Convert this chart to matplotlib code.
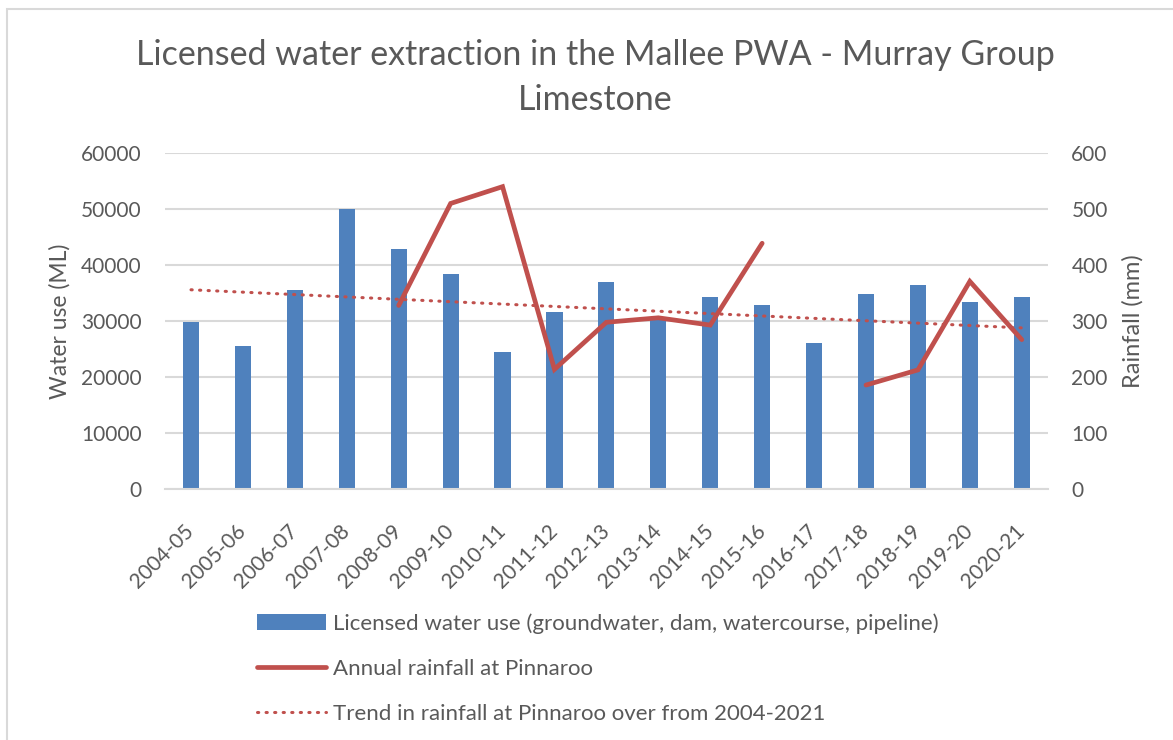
import numpy as np
import matplotlib
matplotlib.use('Agg')
import matplotlib.pyplot as plt
from matplotlib.lines import Line2D
from matplotlib.patches import Patch, Rectangle

years = ['2004-05', '2005-06', '2006-07', '2007-08', '2008-09', '2009-10',
         '2010-11', '2011-12', '2012-13', '2013-14', '2014-15', '2015-16',
         '2016-17', '2017-18', '2018-19', '2019-20', '2020-21']

# licensed water use (ML)
water_use = [29800, 25500, 35500, 50000, 42900, 38500, 24500, 31700, 37000,
             30500, 34400, 32800, 26100, 34900, 36400, 33500, 34400]

# annual rainfall at Pinnaroo (mm), nan = no record
rainfall = [np.nan, np.nan, np.nan, np.nan, 328, 510, 540, 214, 298, 306,
            293, 439, np.nan, 186, 213, 371, 267]

# linear trend in rainfall, start and end values (mm)
trend_start = 356
trend_end = 288

bar_color = '#4F81BD'
line_color = '#C0504D'
text_color = '#595959'
grid_color = '#D9D9D9'

plt.rcParams['font.family'] = ['Lato', 'DejaVu Sans']

fig = plt.figure(figsize=(11.73, 7.40), dpi=100)
# chart frame (only left and top edges fall inside the picture)
fig.patches.append(Rectangle((7 / 1173, -0.1), 1.2, 1 - 9 / 740 + 0.1,
                             transform=fig.transFigure, fill=False,
                             edgecolor='#D9D9D9', linewidth=1.5))

ax1 = fig.add_axes([0.1407, 0.3388, 0.7525, 0.4544])
x = np.arange(len(years))

ax1.bar(x, water_use, width=0.31, color=bar_color, zorder=2)
ax1.set_xlim(-0.5, len(years) - 0.5)
ax1.set_ylim(0, 60000)
ax1.set_yticks(np.arange(0, 60001, 10000))
ax1.grid(axis='y', color=grid_color, linewidth=1.5)
ax1.set_axisbelow(True)
for side in ['top', 'right', 'left']:
    ax1.spines[side].set_visible(False)
ax1.spines['bottom'].set_color(grid_color)
ax1.spines['bottom'].set_linewidth(1.5)
ax1.tick_params(length=0, colors=text_color, labelsize=15)
ax1.tick_params(axis='y', pad=17)
ax1.set_xticks(x)
ax1.set_xticklabels(years, rotation=45, ha='right', va='center',
                    rotation_mode='anchor', fontsize=15)
ax1.tick_params(axis='x', pad=28)
ax1.set_ylabel('Water use (ML)', fontsize=16.5, color=text_color, va='center')
ax1.yaxis.set_label_coords(-0.119, 0.5)

ax2 = ax1.twinx()
ax2.plot(x, rainfall, color=line_color, linewidth=3.4,
         solid_capstyle='round', solid_joinstyle='miter', zorder=3)
ax2.plot([x[0], x[-1]], [trend_start, trend_end], color=line_color,
         linewidth=2.2, linestyle=(0, (0.4, 2.4)), dash_capstyle='round', zorder=3)
ax2.set_ylim(0, 600)
ax2.set_yticks(np.arange(0, 601, 100))
for side in ['top', 'right', 'left', 'bottom']:
    ax2.spines[side].set_visible(False)
ax2.tick_params(length=0, colors=text_color, labelsize=15, pad=17)
ax2.set_ylabel('Rainfall (mm)', fontsize=17, color=text_color, va='center')
ax2.yaxis.set_label_coords(1.0966, 0.5)

fig.text(595 / 1173, 1 - 55 / 740,
         'Licensed water extraction in the Mallee PWA - Murray Group',
         ha='center', va='center', fontsize=24.5, color=text_color)
fig.text(595 / 1173, 1 - 100 / 740, 'Limestone',
         ha='center', va='center', fontsize=24.5, color=text_color)

handles = [
    Patch(facecolor=bar_color),
    Line2D([], [], color=line_color, linewidth=3.4, solid_capstyle='round'),
    Line2D([], [], color=line_color, linewidth=2.2, linestyle=(0, (0.4, 2.4)),
           dash_capstyle='round'),
]
labels = ['Licensed water use (groundwater, dam, watercourse, pipeline)',
          'Annual rainfall at Pinnaroo',
          'Trend in rainfall at Pinnaroo over from 2004-2021']
leg = fig.legend(handles, labels, loc='upper left',
                 bbox_to_anchor=(257 / 1173, 1 - 613 / 740),
                 frameon=False, fontsize=16, handlelength=3.1,
                 handleheight=0.7, labelspacing=1.14, handletextpad=0.32,
                 borderpad=0, borderaxespad=0)
for t in leg.get_texts():
    t.set_color(text_color)

fig.savefig('out.png', dpi=100)
